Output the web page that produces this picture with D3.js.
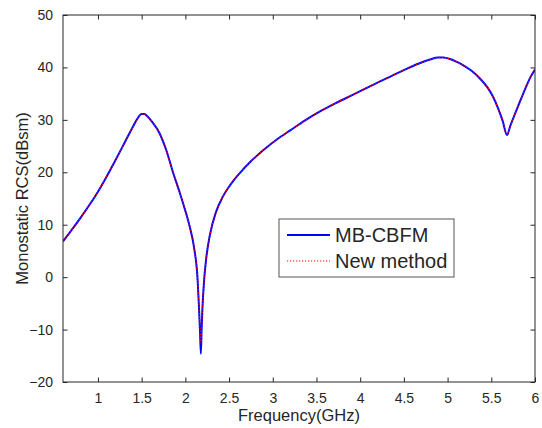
<!DOCTYPE html>
<html>
<head>
<meta charset="utf-8">
<script src="https://cdn.jsdelivr.net/npm/d3@7"></script>
<style>
  body { margin: 0; background: #fff; }
  svg { display: block; font-family: "Liberation Sans", Arial, sans-serif; }
</style>
</head>
<body>
<div id="chart"></div>
<script>
// frequency samples (GHz)
const freq = [0.6, 0.7, 0.8, 0.9, 1.0, 1.1, 1.2, 1.3, 1.4, 1.45, 1.5, 1.53, 1.57, 1.62, 1.7,
  1.78, 1.86, 1.93, 1.99, 2.05, 2.1, 2.14, 2.155, 2.168, 2.177, 2.186, 2.195, 2.215, 2.24,
  2.28, 2.35, 2.43, 2.51, 2.62, 2.75, 2.89, 3.05, 3.2, 3.37, 3.54, 3.72, 3.92, 4.1, 4.3,
  4.5, 4.68, 4.8, 4.89, 4.95, 5.03, 5.1, 5.18, 5.27, 5.37, 5.46, 5.52, 5.58, 5.63, 5.68,
  5.72, 5.78, 5.84, 5.9, 5.95, 6.0];

// MB-CBFM (dBsm)
const mbcbfm = [6.8, 9.0, 11.3, 13.7, 16.3, 19.2, 22.3, 25.5, 28.7, 30.2, 31.1, 31.1, 30.6, 29.6, 27.6,
  24.3, 19.9, 16.4, 13.2, 9.6, 5.6, -0.5, -5.5, -10.5, -14.6, -10.0, -6.0, -0.5, 3.8,
  8.0, 12.4, 15.4, 17.5, 19.8, 22.1, 24.2, 26.3, 28.0, 29.9, 31.6, 33.2, 34.8, 36.3, 37.9,
  39.5, 40.8, 41.5, 41.9, 41.9, 41.6, 41.1, 40.4, 39.4, 37.9, 36.1, 34.4, 32.1, 29.8, 27.1,
  29.0, 31.5, 34.0, 36.4, 38.2, 39.6];

// New method (dBsm)
const newMethod = [6.8, 9.0, 11.3, 13.7, 16.3, 19.2, 22.3, 25.5, 28.7, 30.2, 31.1, 31.1, 30.6, 29.6, 27.6,
  24.3, 19.9, 16.4, 13.2, 9.6, 5.6, -0.5, -5.4, -10.0, -12.6, -9.6, -5.9, -0.5, 3.8,
  8.0, 12.4, 15.4, 17.5, 19.8, 22.1, 24.2, 26.3, 28.0, 29.9, 31.6, 33.2, 34.8, 36.3, 37.9,
  39.5, 40.8, 41.5, 41.9, 41.9, 41.6, 41.1, 40.4, 39.4, 37.9, 36.1, 34.4, 32.1, 29.8, 27.1,
  29.0, 31.5, 34.0, 36.4, 38.2, 39.6];

const xTicks = [1, 1.5, 2, 2.5, 3, 3.5, 4, 4.5, 5, 5.5, 6];
const yTicks = [-20, -10, 0, 10, 20, 30, 40, 50];

const width = 542, height = 428;
const margin = { top: 15, right: 7, bottom: 46, left: 63 };
const iw = width - margin.left - margin.right;
const ih = height - margin.top - margin.bottom;
const tickLen = 4.5;

const svg = d3.select("#chart").append("svg")
  .attr("width", width)
  .attr("height", height);

const g = svg.append("g").attr("transform", `translate(${margin.left},${margin.top})`);

const x = d3.scaleLinear().domain([0.6, 6]).range([0, iw]);
const y = d3.scaleLinear().domain([-20, 50]).range([ih, 0]);

// clip so lines stay in the box
svg.append("defs").append("clipPath").attr("id", "plot-clip")
  .append("rect").attr("width", iw).attr("height", ih);

const line = d3.line()
  .x((d) => x(d[0]))
  .y((d) => y(d[1]))
  .curve(d3.curveMonotoneX);

const plot = g.append("g").attr("clip-path", "url(#plot-clip)");

plot.append("path")
  .datum(freq.map((f, i) => [f, mbcbfm[i]]))
  .attr("fill", "none")
  .attr("stroke", "#0000ff")
  .attr("stroke-width", 2)
  .attr("d", line);

plot.append("path")
  .datum(freq.map((f, i) => [f, newMethod[i]]))
  .attr("fill", "none")
  .attr("stroke", "#ff0000")
  .attr("stroke-width", 1.2)
  .attr("stroke-dasharray", "1.2,1.8")
  .attr("d", line);

// axes, matlab-ish: inner ticks on all four sides
function styleAxis(sel, hideText) {
  sel.select(".domain").remove();
  sel.selectAll(".tick line").attr("stroke", "#262626");
  sel.selectAll(".tick text")
    .attr("fill", "#262626")
    .attr("font-size", 14);
  if (hideText) sel.selectAll(".tick text").remove();
}

g.append("g")
  .attr("transform", `translate(0,${ih})`)
  .call(d3.axisBottom(x).tickValues(xTicks).tickFormat(d3.format("")).tickSizeInner(-tickLen).tickSizeOuter(0).tickPadding(11))
  .call((s) => styleAxis(s, false));

g.append("g")
  .call(d3.axisTop(x).tickValues(xTicks).tickSizeInner(-tickLen).tickSizeOuter(0))
  .call((s) => styleAxis(s, true));

g.append("g")
  .call(d3.axisLeft(y).tickValues(yTicks).tickSizeInner(-tickLen).tickSizeOuter(0).tickPadding(10))
  .call((s) => styleAxis(s, false));

g.append("g")
  .attr("transform", `translate(${iw},0)`)
  .call(d3.axisRight(y).tickValues(yTicks).tickSizeInner(-tickLen).tickSizeOuter(0))
  .call((s) => styleAxis(s, true));

g.append("rect")
  .attr("width", iw)
  .attr("height", ih)
  .attr("fill", "none")
  .attr("stroke", "#262626")
  .attr("stroke-width", 1);

// axis titles
svg.append("text")
  .attr("x", margin.left + iw / 2)
  .attr("y", 421)
  .attr("text-anchor", "middle")
  .attr("font-size", 16.5)
  .attr("fill", "#262626")
  .text("Frequency(GHz)");

svg.append("text")
  .attr("transform", `translate(28,${margin.top + ih / 2}) rotate(-90)`)
  .attr("text-anchor", "middle")
  .attr("font-size", 16.5)
  .attr("fill", "#262626")
  .text("Monostatic RCS(dBsm)");

// legend
const legend = svg.append("g").attr("transform", "translate(279,219)");
legend.append("rect")
  .attr("width", 175)
  .attr("height", 58)
  .attr("fill", "#fff")
  .attr("stroke", "#555")
  .attr("stroke-width", 1);

const items = [
  { name: "MB-CBFM", color: "#0000ff", w: 2, dash: null },
  { name: "New method", color: "#ff0000", w: 1.2, dash: "1.2,1.8" },
];
items.forEach((it, i) => {
  const yy = 16 + i * 26;
  legend.append("line")
    .attr("x1", 8).attr("x2", 51)
    .attr("y1", yy).attr("y2", yy)
    .attr("stroke", it.color)
    .attr("stroke-width", it.w)
    .attr("stroke-dasharray", it.dash);
  legend.append("text")
    .attr("x", 56)
    .attr("y", yy + 7)
    .attr("font-size", 20)
    .attr("fill", "#262626")
    .text(it.name);
});
</script>
</body>
</html>
